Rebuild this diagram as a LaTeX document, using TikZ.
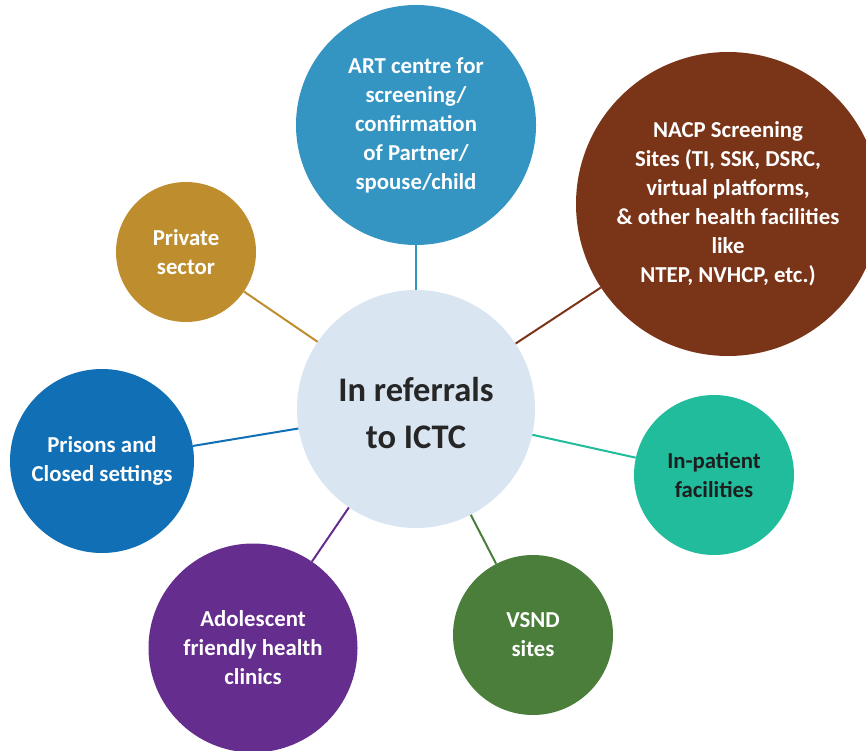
\documentclass[tikz,border=0pt]{standalone}
\usepackage{fontspec}
\setmainfont{Carlito}
\definecolor{cHub}{HTML}{DAE5F2}
\definecolor{cHubTxt}{HTML}{262626}
\definecolor{cArt}{HTML}{3494C2}
\definecolor{cNacp}{HTML}{7A3519}
\definecolor{cPriv}{HTML}{BE8E2E}
\definecolor{cPris}{HTML}{106FB5}
\definecolor{cAdol}{HTML}{652D8E}
\definecolor{cVsnd}{HTML}{4A7E3A}
\definecolor{cInp}{HTML}{20BC9C}
\definecolor{cDark}{HTML}{1E1E1E}
\begin{document}
\begin{tikzpicture}[x=1pt,y=-1pt,
  bubble/.style={circle,inner sep=0pt,draw=none,align=center,text=white,
    font=\fontsize{22.8}{29}\selectfont\bfseries},
  link/.style={line width=2pt}]
\useasboundingbox (0,0) rectangle (866,751);
\clip (0,0) rectangle (866,751);
\node[bubble,fill=cHub,minimum size=238pt] (hub) at (416,409) {};
\node[align=center,text=cHubTxt,inner sep=0pt,
  font=\fontsize{34.5}{47}\selectfont\bfseries] (hubtext) at (416,413) {In referrals\\to ICTC};
\node[bubble,fill=cArt,minimum size=240pt] (art) at (416,125)
  {ART centre for\\screening/\\confirmation\\of Partner/\\spouse/child};
\node[bubble,fill=cNacp,minimum size=304pt] (nacp) at (728,204)
  {NACP Screening\\Sites (TI, SSK, DSRC,\\virtual platforms,\\\& other health facilities\\like\\NTEP, NVHCP, etc.)};
\node[bubble,fill=cPriv,minimum size=140pt] (priv) at (186,252) {Private\\sector};
\node[bubble,fill=cPris,minimum size=184pt] (pris) at (102,461) {Prisons and\\Closed settings};
\node[bubble,fill=cAdol,minimum size=209pt] (adol) at (253,648) {Adolescent\\friendly health\\clinics};
\node[bubble,fill=cVsnd,minimum size=160pt] (vsnd) at (533,635) {VSND\\sites};
\node[bubble,fill=cInp,text=cDark,minimum size=160pt] (inp) at (714,475) {In-patient\\facilities};
\draw[link,cArt] (hub) -- (art);
\draw[link,cNacp] (hub) -- (nacp);
\draw[link,cPriv] (hub) -- (priv);
\draw[link,cPris] (hub) -- (pris);
\draw[link,cAdol] (hub) -- (adol);
\draw[link,cVsnd] (hub) -- (vsnd);
\draw[link,cInp] (hub) -- (inp);
\end{tikzpicture}
\end{document}
